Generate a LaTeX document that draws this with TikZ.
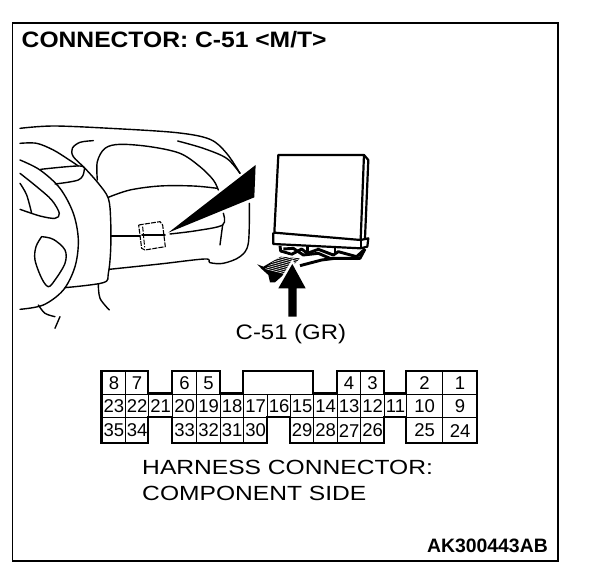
\documentclass[tikz,border=0pt]{standalone}
\usepackage{fontspec}
\setmainfont{Liberation Sans}
\begin{document}
\begin{tikzpicture}[x=1pt,y=-1pt,
  ln/.style={line width=1.4pt,line cap=round,line join=round},
  ec/.style={line width=2.2pt,line join=round},
  wr/.style={line width=2.9pt,line join=round},
  cell/.style={draw,line width=1.1pt,inner sep=0pt,anchor=north west,font=\fontsize{18.5}{18.5}\selectfont},
  lab/.style={inner sep=0pt,anchor=base west}]
\useasboundingbox (0,0) rectangle (608,572);
\fill[white] (0,0) rectangle (608,572);
\draw[line width=1.4pt] (12.5,23) rectangle (558,561);
\node[lab,xscale=1.105,font=\fontsize{22.3}{22.3}\selectfont\bfseries] (title) at (21.5,48) {CONNECTOR: C-51 <M/T>};
\node[lab,xscale=1.14,font=\fontsize{21}{21}\selectfont] (clabel) at (235.5,339) {C-51 (GR)};
\node[lab,xscale=1.2,font=\fontsize{20.5}{20.5}\selectfont] (h1) at (142,474.5) {HARNESS CONNECTOR:};
\node[lab,xscale=1.2,font=\fontsize{20.5}{20.5}\selectfont] (h2) at (142,500) {COMPONENT SIDE};
\node[lab,anchor=base east,font=\fontsize{19.4}{19.4}\selectfont\bfseries] (code) at (548,552) {AK300443AB};
% dashboard
\begin{scope}[shift={(10,110)},x=.3333pt,y=-.3333pt]
\draw[ln] plot[smooth,tension=.55] coordinates {(30,55)(130,48)(300,55)(500,68)(600,88)(650,130)(690,190)};
\draw[ln] plot[smooth,tension=.55] coordinates {(250,92)(210,97)(187,115)(190,140)(225,175)(265,220)(295,265)(302,330)(302,420)(295,490)(280,518)(165,533)};
\draw[ln] plot[smooth,tension=.55] coordinates {(30,100)(80,100)(130,120)(175,148)(205,168)};
\draw[ln] plot[smooth,tension=.55] coordinates {(30,150)(90,180)(150,235)(190,310)(205,390)(195,470)(160,540)(100,585)(30,598)};
\draw[ln] plot[smooth,tension=.55] coordinates {(30,190)(80,230)(125,270)(148,310)(135,325)(90,318)(30,298)};
\draw[ln] plot[smooth,tension=.55] coordinates {(30,220)(50,255)(65,310)};
\draw[ln] plot[smooth,tension=.55] coordinates {(92,178)(210,168)(222,185)(205,210)(135,222)};
\draw[ln] plot[smooth,tension=.55] coordinates {(95,380)(130,388)(165,420)(165,460)(135,510)(115,530)(95,505)(75,450)(78,410)(95,380)};
\draw[ln] plot[smooth,tension=.55] coordinates {(85,585)(105,610)(135,620)};
\draw[ln] plot[smooth,tension=.55] coordinates {(150,620)(135,655)};
\draw[ln] plot[smooth,tension=.55] coordinates {(265,522)(270,565)(298,600)};
\draw[ln] plot[smooth,tension=.55] coordinates {(262,210)(262,155)(285,115)(330,103)(420,110)(510,130)(570,170)(610,210)(625,240)};
\draw[ln] plot[smooth,tension=.55] coordinates {(295,262)(360,240)(450,228)(550,228)(622,235)};
\draw[ln] plot[smooth,tension=.55] coordinates {(503,93)(580,115)(650,145)(690,190)};
\draw[ln] (303,378) -- (390,378);
\draw[ln,line width=1.8pt] (396,375) -- (465,375);
\draw[ln] plot[smooth,tension=.55] coordinates {(480,372)(560,362)(638,345)(640,310)};
\draw[ln] (638,345) -- (630,405);
\draw[ln] plot[smooth,tension=.55] coordinates {(298,478)(450,462)(585,447)(600,458)(640,460)(690,440)(715,400)(718,280)};
\draw[line width=1.1pt,dash pattern=on 5pt off 1.2pt,line join=round] (386,345) -- (450,335) -- (458,345) -- (466,410) -- (405,420) -- (395,415) -- cycle;
\draw[line width=1pt,dash pattern=on 5pt off 1.5pt] (398,350) -- (404,412);
\fill (737,165) -- (733,262) -- (475,368) -- cycle;
\end{scope}
% ECU
\begin{scope}[shift={(240,140)},x=.3333pt,y=-.3333pt]
\draw[ec] (115,45) -- (372,45) -- (362,300) -- (103,278) -- cycle;
\draw[ec] (372,45) -- (385,60) -- (375,295);
\draw[ec] (100,278) -- (100,312) -- (362,325) -- (382,320) -- (385,295) -- (362,300);
\draw[ec] (362,300) -- (362,325);
\end{scope}
% wires
\begin{scope}[shift={(250,225)},x=.3333pt,y=-.3333pt]
\draw[wr] (90,62) -- (92,78) -- (125,88) -- (155,72) -- (172,85) -- (205,73) -- (250,90) -- (265,80) -- (320,95) -- (345,72);
\draw[wr] (172,62) -- (172,85);
\draw[wr] (255,68) -- (255,90);
\draw[wr] (100,72) -- (130,70) -- (160,90) -- (205,85) -- (240,100) -- (330,100) -- (345,72);
\draw[wr] (150,122) -- (215,105) -- (255,100);
\fill (22,118) -- (40,125) -- (92,95) -- (150,100) -- (100,150) -- (75,172) -- (60,172) -- (55,150) -- (35,132) -- cycle;
\foreach \k in {0,...,10}{\draw[white,line width=.55pt] (46+5*\k,131-4.5*\k) -- (104+5*\k,146-4.5*\k);}
\fill[white] (127,103) -- (175,190) -- (75,190) -- cycle;
\end{scope}
\begin{scope}[shift={(240,140)},x=.3333pt,y=-.3333pt]
\fill[black] (157,372) -- (197,445) -- (170,445) -- (170,530) -- (145,530) -- (145,445) -- (115,445) -- cycle;
\end{scope}
% connector
\foreach \lbl/\xa/\xb/\rw in {
 8/101.7/125/0,7/125/148/0,6/172/196/0,5/196/220/0,4/337/360/0,3/360/384/0,2/406/442/0,1/442/477/0,
 23/101.7/125/1,22/125/148/1,21/148/172/1,20/172/196/1,19/196/220/1,18/220/243/1,17/243/267/1,16/267/290/1,15/290/313/1,14/313/337/1,13/337/360/1,12/360/384/1,11/384/406/1,10/406/442/1,9/442/477/1,
 35/101.7/125/2,34/125/148/2,33/172/196/2,32/196/220/2,31/220/243/2,30/243/267/2,29/290/313/2,28/313/337/2,27/337/360/2,26/360/384/2,25/406/442/2,24/442/477/2}{
  \pgfmathsetmacro{\cw}{\xb-\xa}
  \ifnum\rw=0 \def\yy{371}\def\hh{22.5}\fi
  \ifnum\rw=1 \def\yy{393.5}\def\hh{23.5}\fi
  \ifnum\rw=2 \def\yy{417}\def\hh{26}\fi
  \node[cell,minimum width=\cw pt,minimum height=\hh pt] (p\lbl) at (\xa,\yy) {\lbl};
}
\node[cell,minimum width=70pt,minimum height=22.5pt] (blank) at (243,371) {};
\draw[line width=2.6pt,line join=miter] (101.7,371) -- (148,371) -- (148,393.5) -- (172,393.5) -- (172,371) -- (220,371) -- (220,393.5) -- (243,393.5) -- (243,371) -- (313,371) -- (313,393.5) -- (337,393.5) -- (337,371) -- (384,371) -- (384,393.5) -- (406,393.5) -- (406,371) -- (477,371) -- (477,443) -- (406,443) -- (406,417) -- (384,417) -- (384,443) -- (290,443) -- (290,417) -- (267,417) -- (267,443) -- (172,443) -- (172,417) -- (148,417) -- (148,443) -- (101.7,443) -- cycle;
\end{tikzpicture}
\end{document}
